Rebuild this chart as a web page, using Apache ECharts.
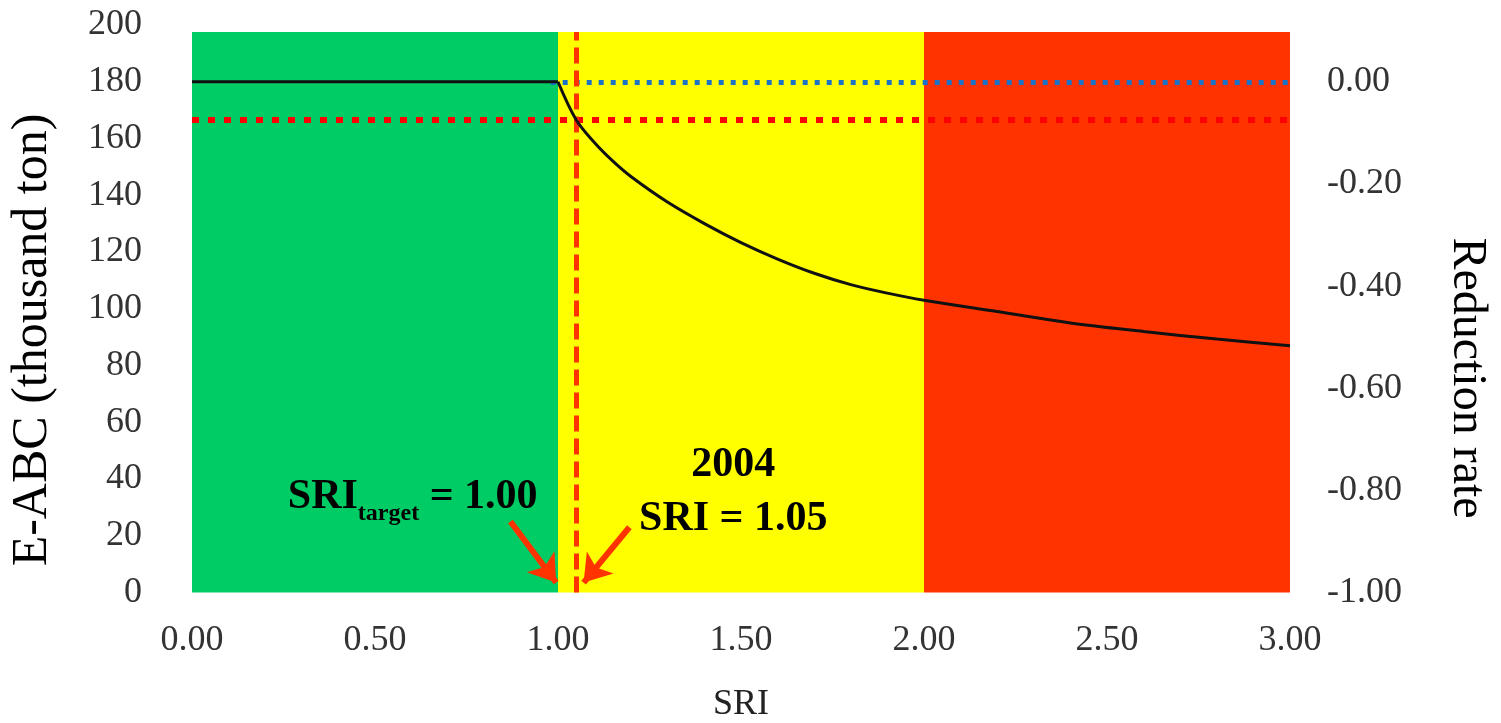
<!DOCTYPE html>
<html>
<head>
<meta charset="utf-8">
<script src="https://cdn.jsdelivr.net/npm/echarts@6/dist/echarts.min.js"></script>
<style>
  html, body { margin: 0; padding: 0; background: #ffffff; }
  #chart { width: 1501px; height: 723px; }
</style>
</head>
<body>
<div id="chart"></div>
<script>
// E-ABC (thousand ton) as a function of the stock reduction index (SRI)
const sri  = [0, 0.5, 1.0, 1.05, 1.1, 1.15, 1.2, 1.3, 1.4, 1.5, 1.6, 1.7, 1.8, 1.9, 2.0, 2.2, 2.4, 2.6, 2.8, 3.0];
const eabc = [180, 180, 180, 166.5, 158.5, 152, 146.5, 137.5, 130, 123.3, 117.5, 112.5, 108.5, 105.5, 103, 99, 95, 92, 89.3, 87];

// reference values
const abcBase = 180;        // ABC before any reduction
const sriTarget = 1.00;
const sri2004 = 1.05;
const eabc2004 = 166.5;

// zone boundaries along SRI: green / yellow / red
const zoneBreaks = [0, 1, 2, 3];
const zoneColors = ['#00CC66', '#FFFF00', '#FF3300'];
const zoneTop = 197.5;

// axis ranges and tick steps
const xRange = [0, 3, 0.5];
const leftRange = [0, 200, 20];
const rightRange = [-1, leftRange[1] / abcBase - 1, 0.2];

// annotation arrows (start, tip) in data units
const arrowTarget = [[0.87, 25], [0.995, 3.5]];
const arrow2004 = [[1.195, 23], [1.07, 3.5]];
// annotation text anchors in data units
const labelTargetAt = [0.603, 33.5];
const label2004At = [1.479, 35.5];

const serif = '"Liberation Serif", "Times New Roman", serif';
const tickColor = '#333333';

const points = sri.map((x, i) => [x, eabc[i]]);
const flatPart = points.filter(p => p[0] <= sriTarget);
const curvePart = points.filter(p => p[0] >= sriTarget);

const zoneAreas = zoneColors.map((c, i) => [
  { xAxis: zoneBreaks[i], yAxis: 0, itemStyle: { color: c } },
  { xAxis: zoneBreaks[i + 1], yAxis: zoneTop }
]);

const chart = echarts.init(document.getElementById('chart'), null, { renderer: 'canvas' });

const option = {
  animation: false,
  backgroundColor: '#ffffff',
  grid: { left: 192, right: 211, top: 25, bottom: 130.5, containLabel: false, outerBoundsMode: 'none' },
  xAxis: {
    type: 'value',
    min: xRange[0], max: xRange[1], interval: xRange[2],
    axisLine: { show: false }, axisTick: { show: false }, splitLine: { show: false },
    axisLabel: {
      formatter: v => v.toFixed(2),
      fontFamily: serif, fontSize: 36, color: tickColor, margin: 30
    },
    name: 'SRI', nameLocation: 'middle', nameGap: 94,
    nameTextStyle: { fontFamily: serif, fontSize: 36, color: '#222222' }
  },
  yAxis: [
    {
      type: 'value', position: 'left',
      min: leftRange[0], max: leftRange[1], interval: leftRange[2],
      axisLine: { show: false }, axisTick: { show: false }, splitLine: { show: false },
      axisLabel: { fontFamily: serif, fontSize: 36, color: tickColor, margin: 50 }
    },
    {
      type: 'value', position: 'right',
      min: rightRange[0], max: rightRange[1], interval: rightRange[2],
      alignTicks: false,
      axisLine: { show: false }, axisTick: { show: false }, splitLine: { show: false },
      axisLabel: {
        fontFamily: serif, fontSize: 36, color: tickColor, margin: 37,
        formatter: v => {
          if (v > 0.01) return '';
          if (Math.abs(v) < 1e-9) return '0.00';
          return v.toFixed(2);
        }
      }
    }
  ],
  graphic: [
    {
      type: 'text', x: 33, y: 340, rotation: Math.PI / 2,
      style: {
        text: 'E-ABC (thousand ton)', fontFamily: serif, fontSize: 50,
        fill: '#000000', align: 'center', verticalAlign: 'middle'
      }
    },
    {
      type: 'text', x: 1467, y: 378, rotation: -Math.PI / 2,
      style: {
        text: 'Reduction rate', fontFamily: serif, fontSize: 48,
        fill: '#000000', align: 'center', verticalAlign: 'middle'
      }
    }
  ],
  series: [
    {
      // SRI zones
      name: 'zones', type: 'line', z: 1,
      data: zoneBreaks.map(x => [x, 0]),
      showSymbol: false, lineStyle: { opacity: 0 }, silent: true,
      markArea: { silent: true, data: zoneAreas }
    },
    {
      name: 'E-ABC flat', type: 'line', z: 5,
      data: flatPart, showSymbol: false, symbol: 'none',
      lineStyle: { color: '#111111', width: 3 }
    },
    {
      name: 'E-ABC', type: 'line', z: 5,
      data: curvePart, showSymbol: false, symbol: 'none', smooth: 0.35,
      lineStyle: { color: '#111111', width: 3 }
    },
    {
      // reference lines
      name: 'reference', type: 'line', z: 6, data: [], silent: true,
      markLine: {
        silent: true, symbol: ['none', 'none'], label: { show: false },
        animation: false,
        data: [
          [
            { coord: [xRange[0], eabc2004], lineStyle: { color: '#FF0000', width: 6, type: [7, 9], cap: 'butt' } },
            { coord: [xRange[1], eabc2004] }
          ],
          [
            { coord: [sriTarget - 0.02, abcBase], lineStyle: { color: '#1A73C8', width: 5, type: [5, 7], cap: 'butt' } },
            { coord: [xRange[1], abcBase] }
          ],
          [
            { coord: [sri2004, 0], lineStyle: { color: '#FF3300', width: 5, type: [16, 7], cap: 'butt' } },
            { coord: [sri2004, zoneTop] }
          ]
        ]
      }
    },
    {
      // annotation arrows and labels
      name: 'notes', type: 'line', z: 7, data: [], silent: true,
      markLine: {
        silent: true, symbol: ['none', 'arrow'], symbolSize: 26,
        label: { show: false },
        lineStyle: { color: '#FF3300', width: 6, type: 'solid' },
        data: [
          [{ coord: arrowTarget[0] }, { coord: arrowTarget[1] }],
          [{ coord: arrow2004[0] }, { coord: arrow2004[1] }]
        ]
      },
      markPoint: {
        silent: true, symbol: 'rect', symbolSize: 1,
        itemStyle: { color: 'rgba(0,0,0,0)' },
        data: [
          {
            coord: labelTargetAt,
            label: {
              show: true, position: 'inside',
              formatter: '{a|SRI}{s|target}{a| = 1.00}',
              rich: {
                a: { fontFamily: serif, fontSize: 42, fontWeight: 'bold', color: '#000000', lineHeight: 56, verticalAlign: 'middle' },
                s: { fontFamily: serif, fontSize: 24, fontWeight: 'bold', color: '#000000', lineHeight: 56, verticalAlign: 'bottom' }
              }
            }
          },
          {
            coord: label2004At,
            label: {
              show: true, position: 'inside',
              formatter: '2004\nSRI = 1.05',
              fontFamily: serif, fontSize: 42, fontWeight: 'bold', color: '#000000',
              lineHeight: 54, align: 'center'
            }
          }
        ]
      }
    }
  ]
};

chart.setOption(option);
</script>
</body>
</html>
